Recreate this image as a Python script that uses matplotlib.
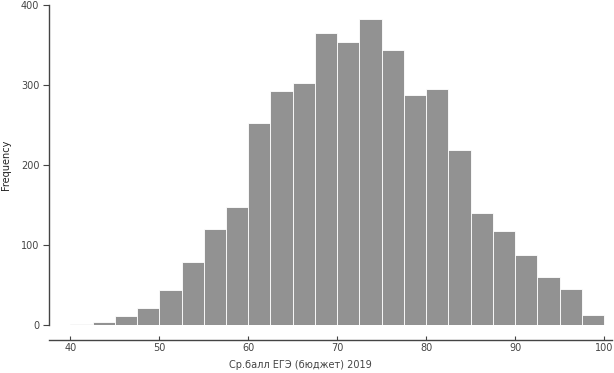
import matplotlib
matplotlib.use("Agg")
import matplotlib.pyplot as plt
import numpy as np

# bin edges (width 2.5) and counts
bin_start = 40.0
bin_width = 2.5
counts = [1, 4, 11, 21, 44, 79, 120, 147, 252, 292, 302, 365,
          354, 382, 344, 287, 295, 219, 140, 117, 87, 60, 45, 12]
x_ticks = [40, 50, 60, 70, 80, 90, 100]
y_ticks = [0, 100, 200, 300, 400]
x_label = "Ср.балл ЕГЭ (бюджет) 2019"
y_label = "Frequency"

edges = bin_start + bin_width * np.arange(len(counts))

fig = plt.figure(figsize=(6.14, 3.73), dpi=100)
ax = fig.add_axes([49 / 614, 1 - 325 / 373, (612 - 49) / 614, 320 / 373])

ax.bar(edges, counts, width=bin_width, align="edge",
       color="#929292", edgecolor="white", linewidth=0.6)

ax.set_xlim(37.6, 100.9)
ax.set_ylim(0, 400)

for s in ["top", "right"]:
    ax.spines[s].set_visible(False)
ax.spines["left"].set_bounds(0, 400)
ax.spines["bottom"].set_position(("outward", 11))
for s in ["left", "bottom"]:
    ax.spines[s].set_color("#444444")
    ax.spines[s].set_linewidth(1.0)

ax.set_xticks(x_ticks)
ax.set_yticks(y_ticks)
ax.tick_params(axis="x", direction="in", length=3, colors="#444444",
               labelsize=7, pad=2)
ax.tick_params(axis="y", direction="out", length=4, colors="#444444",
               labelsize=7, pad=3)

ax.set_xlabel(x_label, fontsize=7, color="#444444")
ax.xaxis.set_label_coords(0.446, -0.11)
ax.set_ylabel(y_label, fontsize=7, color="#222222")
ax.yaxis.set_label_coords(-0.068, 0.5)

fig.savefig("out.png", dpi=100)
